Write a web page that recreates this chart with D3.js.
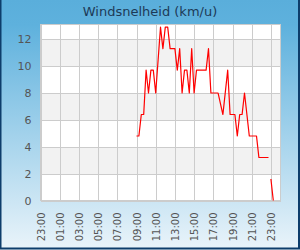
<!DOCTYPE html>
<html>
<head>
<meta charset="utf-8">
<script src="https://cdn.jsdelivr.net/npm/d3@7"></script>
<style>
  body { margin: 0; }
  svg { display: block; font-family: "DejaVu Sans", sans-serif; }
  .grid line { stroke: #cccccc; stroke-width: 1; shape-rendering: crispEdges; }
  .axis text { fill: #555555; }
  .axis path, .axis line { display: none; }
</style>
</head>
<body>
<svg width="300" height="250"></svg>
<script>
// Wind speed readings (km/u); null = no reading (gap in the line)
var times = ['09:00', '09:15', '09:30', '09:45', '10:00', '10:15', '10:30', '10:45', '11:00',
  '11:30', '11:45', '12:00', '12:15', '12:30', '12:45', '13:00', '13:15', '13:30', '13:45',
  '14:00', '14:15', '14:30', '14:45', '15:00', '15:15', '15:30', '15:45', '16:00', '16:15',
  '16:30', '16:45', '17:00', '17:15', '17:30', '18:00', '18:30', '18:45', '19:00', '19:15',
  '19:30', '19:45', '20:00', '20:15', '20:45', '21:00', '21:15', '21:30', '21:45', '22:00',
  '22:15', '22:30', '22:45', '22:50', '23:00', '23:15'];
var speeds = [4.8, 4.8, 6.4, 6.4, 9.7, 8.0, 9.7, 9.7, 8.0,
  12.9, 11.3, 12.9, 12.9, 11.3, 11.3, 11.3, 9.7, 11.3, 8.0,
  9.7, 9.7, 8.0, 11.3, 8.0, 9.7, 9.7, 9.7, 9.7, 9.7,
  11.3, 8.0, 8.0, 8.0, 8.0, 6.4, 9.7, 6.4, 6.4, 6.4,
  4.8, 6.4, 6.4, 8.0, 4.8, 4.8, 4.8, 4.8, 3.2, 3.2,
  3.2, 3.2, 3.2, null, 1.6, 0];
// Axis ticks
var xTickHours = [-1, 1, 3, 5, 7, 9, 11, 13, 15, 17, 19, 21, 23];
var xTickLabels = ['23:00', '01:00', '03:00', '05:00', '07:00', '09:00', '11:00',
  '13:00', '15:00', '17:00', '19:00', '21:00', '23:00'];
var yTicks = [0, 2, 4, 6, 8, 10, 12];
var yBands = [[2, 4], [6, 8], [10, 12]];
var title = 'Windsnelheid (km/u)';

var svg = d3.select('svg');
var width = +svg.attr('width'), height = +svg.attr('height');
var plot = {left: 40.5, right: 280.5, top: 24.5, bottom: 200.5};

//Background gradient.
var grad = svg.append('defs').append('linearGradient')
  .attr('id', 'bg').attr('x1', 0).attr('y1', 0).attr('x2', 0).attr('y2', 1);
grad.append('stop').attr('offset', '0%').attr('stop-color', '#5aaedb');
grad.append('stop').attr('offset', '10%').attr('stop-color', '#5eb1dd');
grad.append('stop').attr('offset', '100%').attr('stop-color', '#eaf4fa');
svg.append('rect').attr('width', width).attr('height', height).attr('fill', 'url(#bg)');
svg.append('rect')
  .attr('x', 0.5).attr('y', -2).attr('width', width - 1.5).attr('height', height + 0.5)
  .attr('fill', 'none').attr('stroke', '#0d3d6b').attr('stroke-width', 2);

//Title.
svg.append('text')
  .text(title)
  .attr('x', width / 2).attr('y', 16)
  .attr('text-anchor', 'middle')
  .style('font-size', '13px')
  .style('fill', '#1d3a57');

//Scales.
var parseHour = function(t) { var p = t.split(':'); return +p[0] + p[1] / 60; };
var xScale = d3.scaleLinear().domain([-1, 24]).range([plot.left, plot.right]);
var yScale = d3.scaleLinear().domain([0, 13.1]).range([plot.bottom, plot.top]);

//Plot background and bands.
svg.append('rect')
  .attr('x', plot.left).attr('y', plot.top)
  .attr('width', plot.right - plot.left).attr('height', plot.bottom - plot.top)
  .attr('fill', '#ffffff');
svg.selectAll('.band').data(yBands).enter().append('rect')
  .attr('class', 'band')
  .attr('x', plot.left)
  .attr('width', plot.right - plot.left)
  .attr('y', function(d) { return Math.round(yScale(d[1])); })
  .attr('height', function(d) { return Math.round(yScale(d[0])) - Math.round(yScale(d[1])); })
  .attr('fill', '#f2f2f2');

//Grid lines.
var grid = svg.append('g').attr('class', 'grid');
grid.selectAll('.gy').data(yTicks).enter().append('line')
  .attr('x1', plot.left).attr('x2', plot.right)
  .attr('y1', function(d) { return Math.round(yScale(d)) + 0.5; })
  .attr('y2', function(d) { return Math.round(yScale(d)) + 0.5; });
grid.selectAll('.gx').data(xTickHours).enter().append('line')
  .attr('x1', function(d) { return Math.round(xScale(d)) + 0.5; })
  .attr('x2', function(d) { return Math.round(xScale(d)) + 0.5; })
  .attr('y1', plot.top).attr('y2', plot.bottom);
grid.append('rect')
  .attr('x', plot.left).attr('y', plot.top)
  .attr('width', plot.right - plot.left).attr('height', plot.bottom - plot.top)
  .attr('fill', 'none').attr('stroke', '#cccccc');

//Line.
var data = times.map(function(t, i) { return {h: parseHour(t), v: speeds[i]}; });
var line = d3.line()
  .defined(function(d) { return d.v !== null; })
  .x(function(d) { return xScale(d.h); })
  .y(function(d) { return yScale(d.v); });
svg.append('path')
  .datum(data)
  .attr('d', line)
  .attr('fill', 'none')
  .attr('stroke', '#ff0000')
  .attr('stroke-width', 1.2)
  .attr('stroke-linejoin', 'round');

//Axes.
svg.append('g')
  .attr('class', 'axis')
  .attr('transform', 'translate(' + (plot.left - 9) + ',0)')
  .call(d3.axisLeft(yScale).tickValues(yTicks).tickSize(0).tickPadding(0))
  .selectAll('text')
  .style('font-size', '11px')
  .attr('font-family', null);
svg.select('.axis').attr('font-family', null).attr('font-size', null);

var xAxis = svg.append('g')
  .attr('class', 'axis')
  .attr('transform', 'translate(0,' + (plot.bottom + 12) + ')')
  .attr('font-family', null)
  .call(d3.axisBottom(xScale).tickValues(xTickHours)
    .tickFormat(function(d, i) { return xTickLabels[i]; }).tickSize(0).tickPadding(0));
xAxis.attr('font-family', null).attr('font-size', null);
xAxis.selectAll('text')
  .style('font-size', '10px')
  .attr('y', 0).attr('dy', '0.35em')
  .attr('transform', 'rotate(-90)')
  .style('text-anchor', 'end');
</script>
</body>
</html>
